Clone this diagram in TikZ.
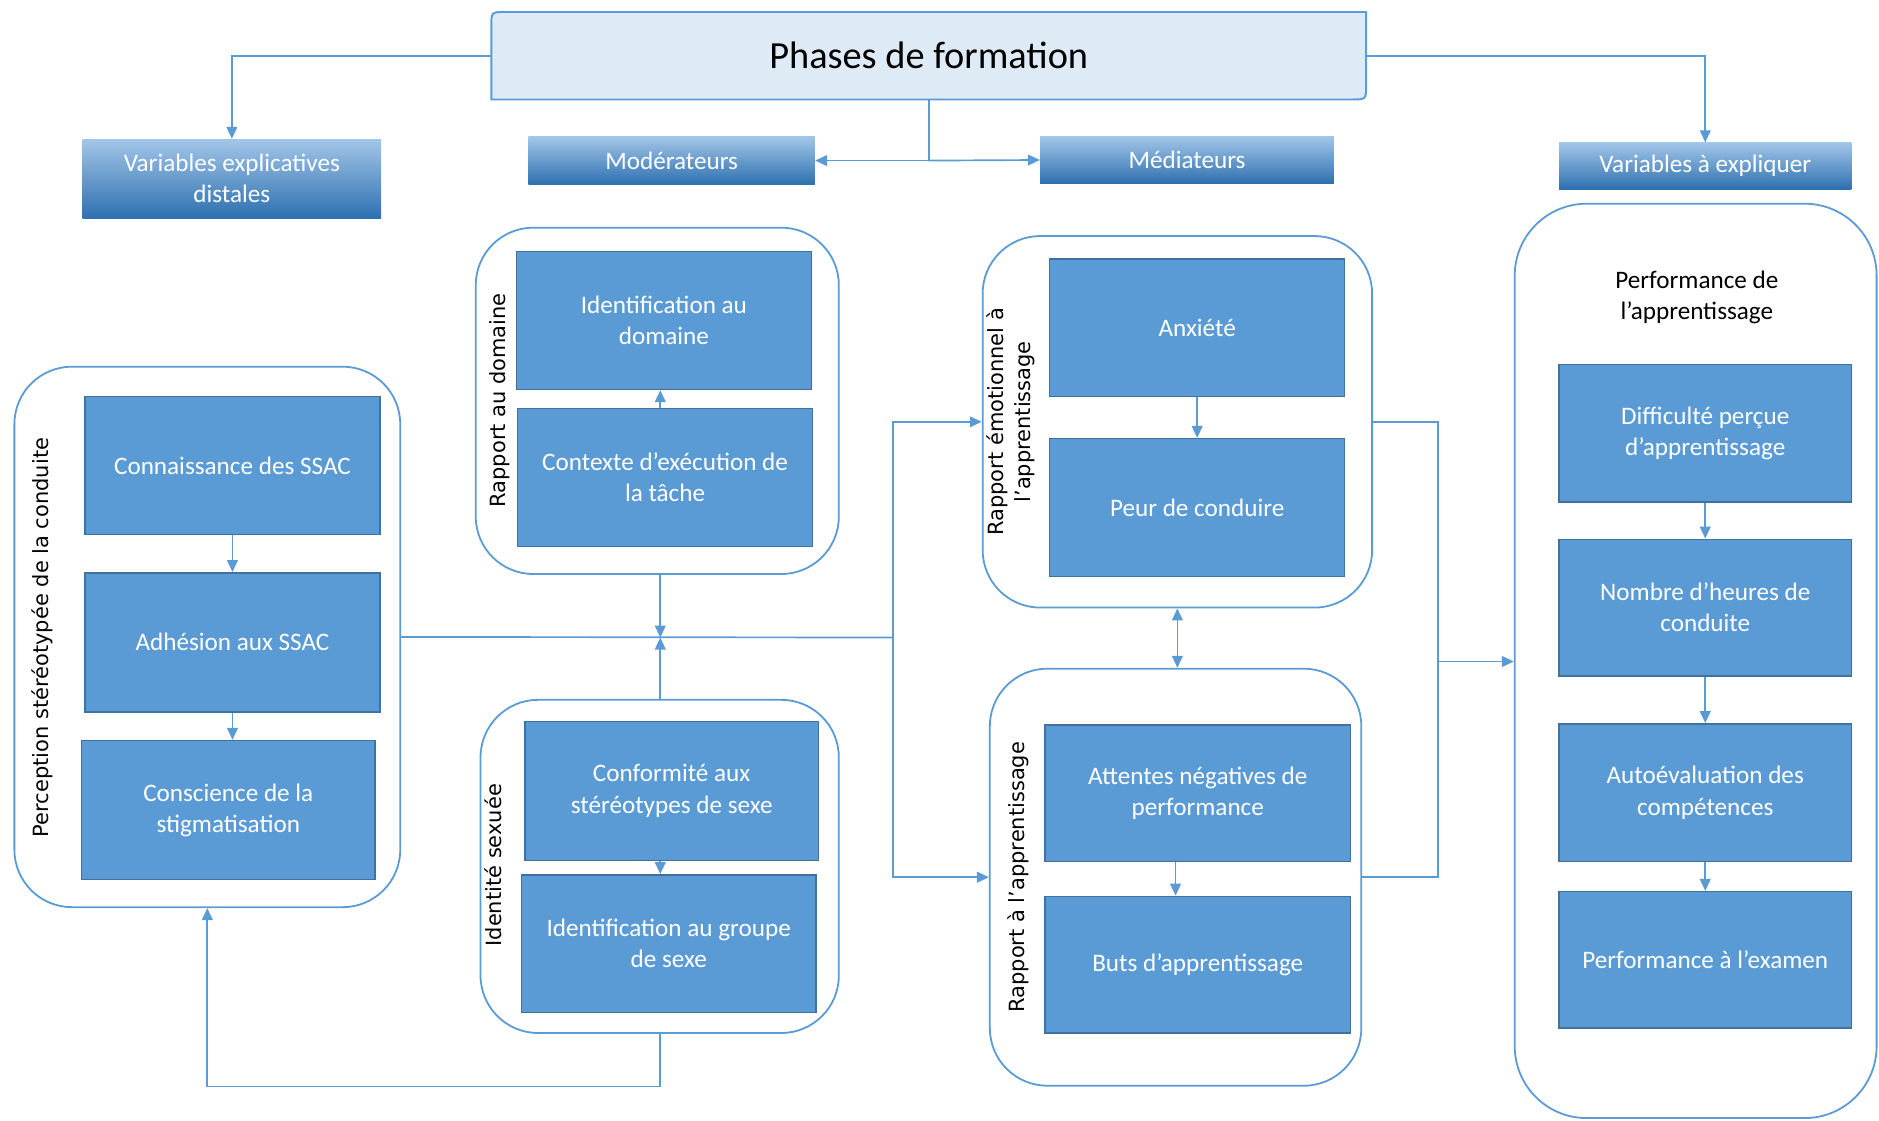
\documentclass[tikz,border=0pt]{standalone}
\usepackage{fontspec}
\setmainfont{Carlito}
\newfontfamily\lblfont{DejaVu Sans}
\usetikzlibrary{arrows.meta,calc}
\definecolor{boxblue}{HTML}{5B9BD5}
\definecolor{boxedge}{HTML}{41719C}
\definecolor{linecol}{HTML}{5B9BD5}
\definecolor{titlefill}{HTML}{DEEBF7}
\definecolor{hdtop}{HTML}{A2C6E8}
\definecolor{hdbot}{HTML}{2E70B0}
\begin{document}
\begin{tikzpicture}[x=1pt,y=-1pt,
 ibox/.style={draw=boxedge, line width=1.2pt, fill=boxblue, text=white, align=center, inner sep=0pt, font=\fontsize{21}{26}\selectfont, minimum width=246pt, minimum height=115pt},
 hdr/.style={top color=hdtop, bottom color=hdbot, text=white, align=center, inner sep=0pt, font=\fontsize{21}{26}\selectfont},
 grp/.style={draw=linecol, line width=1.5pt, rounded corners=48pt, inner sep=0pt},
 lbl/.style={rotate=90, font=\lblfont\fontsize{17.5}{22}\selectfont, align=center, inner sep=0pt},
 conn/.style={draw=linecol, line width=1.4pt},
 arr/.style={conn, -{Triangle[length=10pt,width=9pt]}},
 arrb/.style={conn, {Triangle[length=10pt,width=9pt]}-{Triangle[length=10pt,width=9pt]}},
]
\useasboundingbox (0,0) rectangle (1568,935);

% title
\filldraw[fill=titlefill, draw=linecol, line width=1.6pt] (410,22) .. controls (410,10) .. (422,10) -- (1140,10) -- (1140,71) .. controls (1140,83) .. (1128,83) -- (410,83) -- cycle;
\node[inner sep=0pt, minimum width=730pt, minimum height=73pt, font=\fontsize{32}{38}\selectfont] (t) at (775,46.5) {Phases de formation};

% headers
\node[hdr, minimum width=249pt, minimum height=66pt] (h1) at (193.5,149) {Variables explicatives\\distales};
\node[hdr, minimum width=239pt, minimum height=40pt] (h2) at (560.5,134) {Modérateurs};
\node[hdr, minimum width=245pt, minimum height=39pt] (h3) at (990.5,133.5) {Médiateurs};
\node[hdr, minimum width=244pt, minimum height=39pt] (h4) at (1423,138.5) {Variables à expliquer};

% group frames
\node[grp, minimum width=322pt, minimum height=451pt] (g1) at (173,531.5) {};
\node[grp, minimum width=303pt, minimum height=289pt] (g2) at (548.5,334.5) {};
\node[grp, minimum width=299pt, minimum height=278pt] (g3) at (550.5,723) {};
\node[grp, minimum width=325pt, minimum height=310pt] (g4) at (982.5,352) {};
\node[grp, minimum width=310pt, minimum height=348pt] (g5) at (981,732) {};
\node[grp, rounded corners=60pt, minimum width=302pt, minimum height=763pt] (g6) at (1415,551.5) {};

% group labels
\node[lbl] (l1) at (35,532) {Perception stéréotypée de la conduite};
\node[lbl] (l2) at (417,334) {Rapport au domaine};
\node[lbl] (l3) at (412,722) {Identité sexuée};
\node[lbl] (l4) at (843.5,352) {Rapport émotionnel à\\l’apprentissage};
\node[lbl] (l5) at (850,732) {Rapport à l’apprentissage};
\node[align=center, inner sep=0pt, font=\fontsize{21}{26}\selectfont] (l6) at (1416,248) {Performance de\\l’apprentissage};

% inner boxes
\node[ibox] (c1) at (194,388.5) {Connaissance des SSAC};
\node[ibox, minimum height=116pt] (c2) at (194,536) {Adhésion aux SSAC};
\node[ibox, minimum width=245pt, minimum height=116pt] (c3) at (190.5,676) {Conscience de la\\stigmatisation};

\node[ibox] (d1) at (554,267.5) {Identification au\\domaine};
\node[ibox] (d2) at (555,398.5) {Contexte d’exécution de\\la tâche};

\node[ibox, minimum width=245pt, minimum height=116pt] (s1) at (560.5,660) {Conformité aux\\stéréotypes de sexe};
\node[ibox] (s2) at (558,787.5) {Identification au groupe\\de sexe};

\node[ibox] (e1) at (999,273.5) {Anxiété};
\node[ibox] (e2) at (999,423.5) {Peur de conduire};

\node[ibox, minimum width=255pt, minimum height=114pt] (a1) at (999.5,662) {Attentes négatives de\\performance};
\node[ibox, minimum width=255pt, minimum height=114pt] (a2) at (999.5,805) {Buts d’apprentissage};

\node[ibox, minimum width=244pt] (p1) at (1423,361.5) {Difficulté perçue\\d’apprentissage};
\node[ibox, minimum width=244pt, minimum height=114pt] (p2) at (1423,507) {Nombre d’heures de\\conduite};
\node[ibox, minimum width=244pt] (p3) at (1423,661.5) {Autoévaluation des\\compétences};
\node[ibox, minimum width=244pt, minimum height=114pt] (p4) at (1423,801) {Performance à l’examen};

% connectors from title
\coordinate (m) at (775,134);
\draw[conn] (t.south) -- (m);
\draw[arr] (m) -- (h2.east);
\draw[arr] (m) -- (h3.west);
\draw[arr] (t.west) -| (h1.north);
\draw[arr] (t.east) -| (h4.north);

% inner arrows
\coordinate (cx) at (551,532);
\draw[arr] (c1.south) -- (c2.north);
\draw[arr] (c2.south) -- (c2.south |- c3.north);
\draw[arr] (d2.north -| cx) -- (d1.south -| cx);
\draw[arr] (s1.south -| cx) -- (s2.north -| cx);
\draw[arr] (e1.south) -- (e2.north);
\draw[arr] (a1.south -| g5.north) -- (a2.north -| g5.north);
\draw[arr] (p1.south) -- (p2.north);
\draw[arr] (p2.south) -- (p3.north);
\draw[arr] (p3.south) -- (p4.north);

% main connectors
\coordinate (jx) at (745,532);
\draw[conn] (g1.east) -- (jx);
\draw[arr] (jx) |- (g4.west);
\draw[arr] (jx) |- (g5.west);
\draw[arr] (g2.south -| cx) -- (cx);
\draw[arr] (g3.north -| cx) -- (cx);

\coordinate (kx) at (1200,552);
\draw[conn] (g4.east) -| (kx);
\draw[conn] (g5.east) -| (kx);
\draw[arr] (kx) -- (kx -| g6.west);

\draw[arrb] (g4.south) -- (g4.south |- g5.north);
\draw[arr] (g3.south) -- ++(0,44) -| (g1.south);
\end{tikzpicture}
\end{document}
